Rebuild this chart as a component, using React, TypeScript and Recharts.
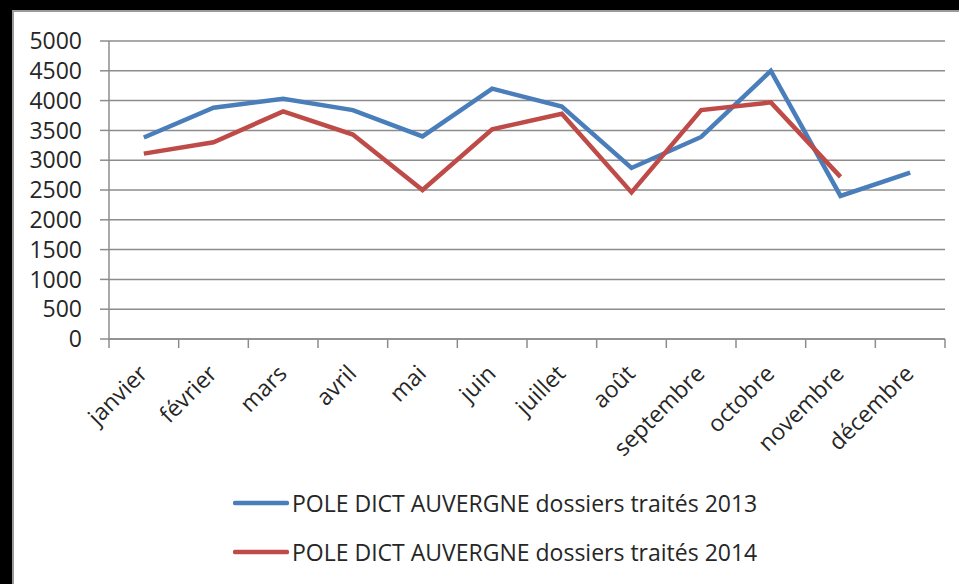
import { CartesianGrid, Legend, Line, LineChart, XAxis, YAxis } from 'recharts'

const months = [
  'janvier',
  'février',
  'mars',
  'avril',
  'mai',
  'juin',
  'juillet',
  'août',
  'septembre',
  'octobre',
  'novembre',
  'décembre'
]
const values2013 = [3380, 3880, 4030, 3840, 3400, 4200, 3900, 2870, 3390, 4500, 2400, 2790]
const values2014 = [3110, 3300, 3820, 3430, 2500, 3520, 3780, 2460, 3840, 3970, 2720, null]
const yTicks = [0, 500, 1000, 1500, 2000, 2500, 3000, 3500, 4000, 4500, 5000]

const name2013 = 'POLE DICT AUVERGNE dossiers traités 2013'
const name2014 = 'POLE DICT AUVERGNE dossiers traités 2014'

const data = months.map((m, i) => ({
  mois: m,
  a2013: values2013[i],
  a2014: values2014[i]
}))

const FONT = '"Open Sans", sans-serif'
const TEXT = '#262626'
const GRID = '#8c8c8c'
const BLUE = '#4a7ebb'
const RED = '#be4b48'

const MonthTick = (props: any) => {
  const { x, y, payload, index, visibleTicksCount } = props
  const off = payload?.offset ?? 0
  const tx = x + 5
  const ty = y + 27
  return (
    <g>
      <line x1={x - off} y1={y - 9} x2={x - off} y2={y} stroke={GRID} strokeWidth={1.5} />
      {index === visibleTicksCount - 1 && (
        <line x1={x + off} y1={y - 9} x2={x + off} y2={y} stroke={GRID} strokeWidth={1.5} />
      )}
      <text
        x={tx}
        y={ty}
        textAnchor='end'
        fontSize={23}
        fontFamily={FONT}
        fill={TEXT}
        transform={`rotate(-45, ${tx}, ${ty})`}
      >
        {payload.value}
      </text>
    </g>
  )
}

const LegendBox = () => (
  <div style={{ fontFamily: FONT, fontSize: 23, color: TEXT }}>
    {[
      { c: BLUE, t: name2013 },
      { c: RED, t: name2014 }
    ].map((r) => (
      <div key={r.t} style={{ display: 'flex', alignItems: 'center', height: 49 }}>
        <svg width={56} height={8}>
          <line x1={2} y1={4} x2={54} y2={4} stroke={r.c} strokeWidth={4.5} strokeLinecap='round' />
        </svg>
        <span style={{ marginLeft: 3, whiteSpace: 'nowrap' }}>{r.t}</span>
      </div>
    ))}
  </div>
)

export default function App() {
  return (
    <div
      style={{
        position: 'absolute',
        left: 0,
        top: 0,
        width: 959,
        height: 584,
        background: '#000',
        overflow: 'hidden'
      }}
    >
      <div
        style={{
          position: 'absolute',
          left: 12,
          top: 10,
          right: 0,
          bottom: 0,
          background: '#fff',
          borderLeft: '2px solid #9a9a9a',
          borderTop: '2px solid #9a9a9a'
        }}
      />
      <div style={{ position: 'absolute', left: 0, top: 0 }}>
        <LineChart
          width={959}
          height={584}
          data={data}
          margin={{ top: 41, right: 14, bottom: 0, left: 0 }}
        >
          <CartesianGrid vertical={false} stroke={GRID} strokeWidth={1.5} />
          <XAxis
            dataKey='mois'
            scale='band'
            interval={0}
            tickLine={false}
            tickSize={9}
            tickMargin={0}
            height={245}
            axisLine={{ stroke: GRID, strokeWidth: 1.5 }}
            tick={<MonthTick />}
          />
          <YAxis
            domain={[0, 5000]}
            ticks={yTicks}
            interval={0}
            width={109}
            tickSize={9}
            tickMargin={18}
            axisLine={{ stroke: GRID, strokeWidth: 1.5 }}
            tickLine={{ stroke: GRID, strokeWidth: 1.5 }}
            tick={{ fontSize: 23, fontFamily: FONT, fill: TEXT }}
          />
          <Legend
            layout='horizontal'
            verticalAlign='middle'
            align='center'
            wrapperStyle={{ left: 233, top: 478, width: 600 }}
            content={<LegendBox />}
          />
          <Line
            dataKey='a2013'
            name={name2013}
            stroke={BLUE}
            strokeWidth={4.5}
            dot={false}
            activeDot={false}
            isAnimationActive={false}
          />
          <Line
            dataKey='a2014'
            name={name2014}
            stroke={RED}
            strokeWidth={4.5}
            dot={false}
            activeDot={false}
            isAnimationActive={false}
          />
        </LineChart>
      </div>
    </div>
  )
}
